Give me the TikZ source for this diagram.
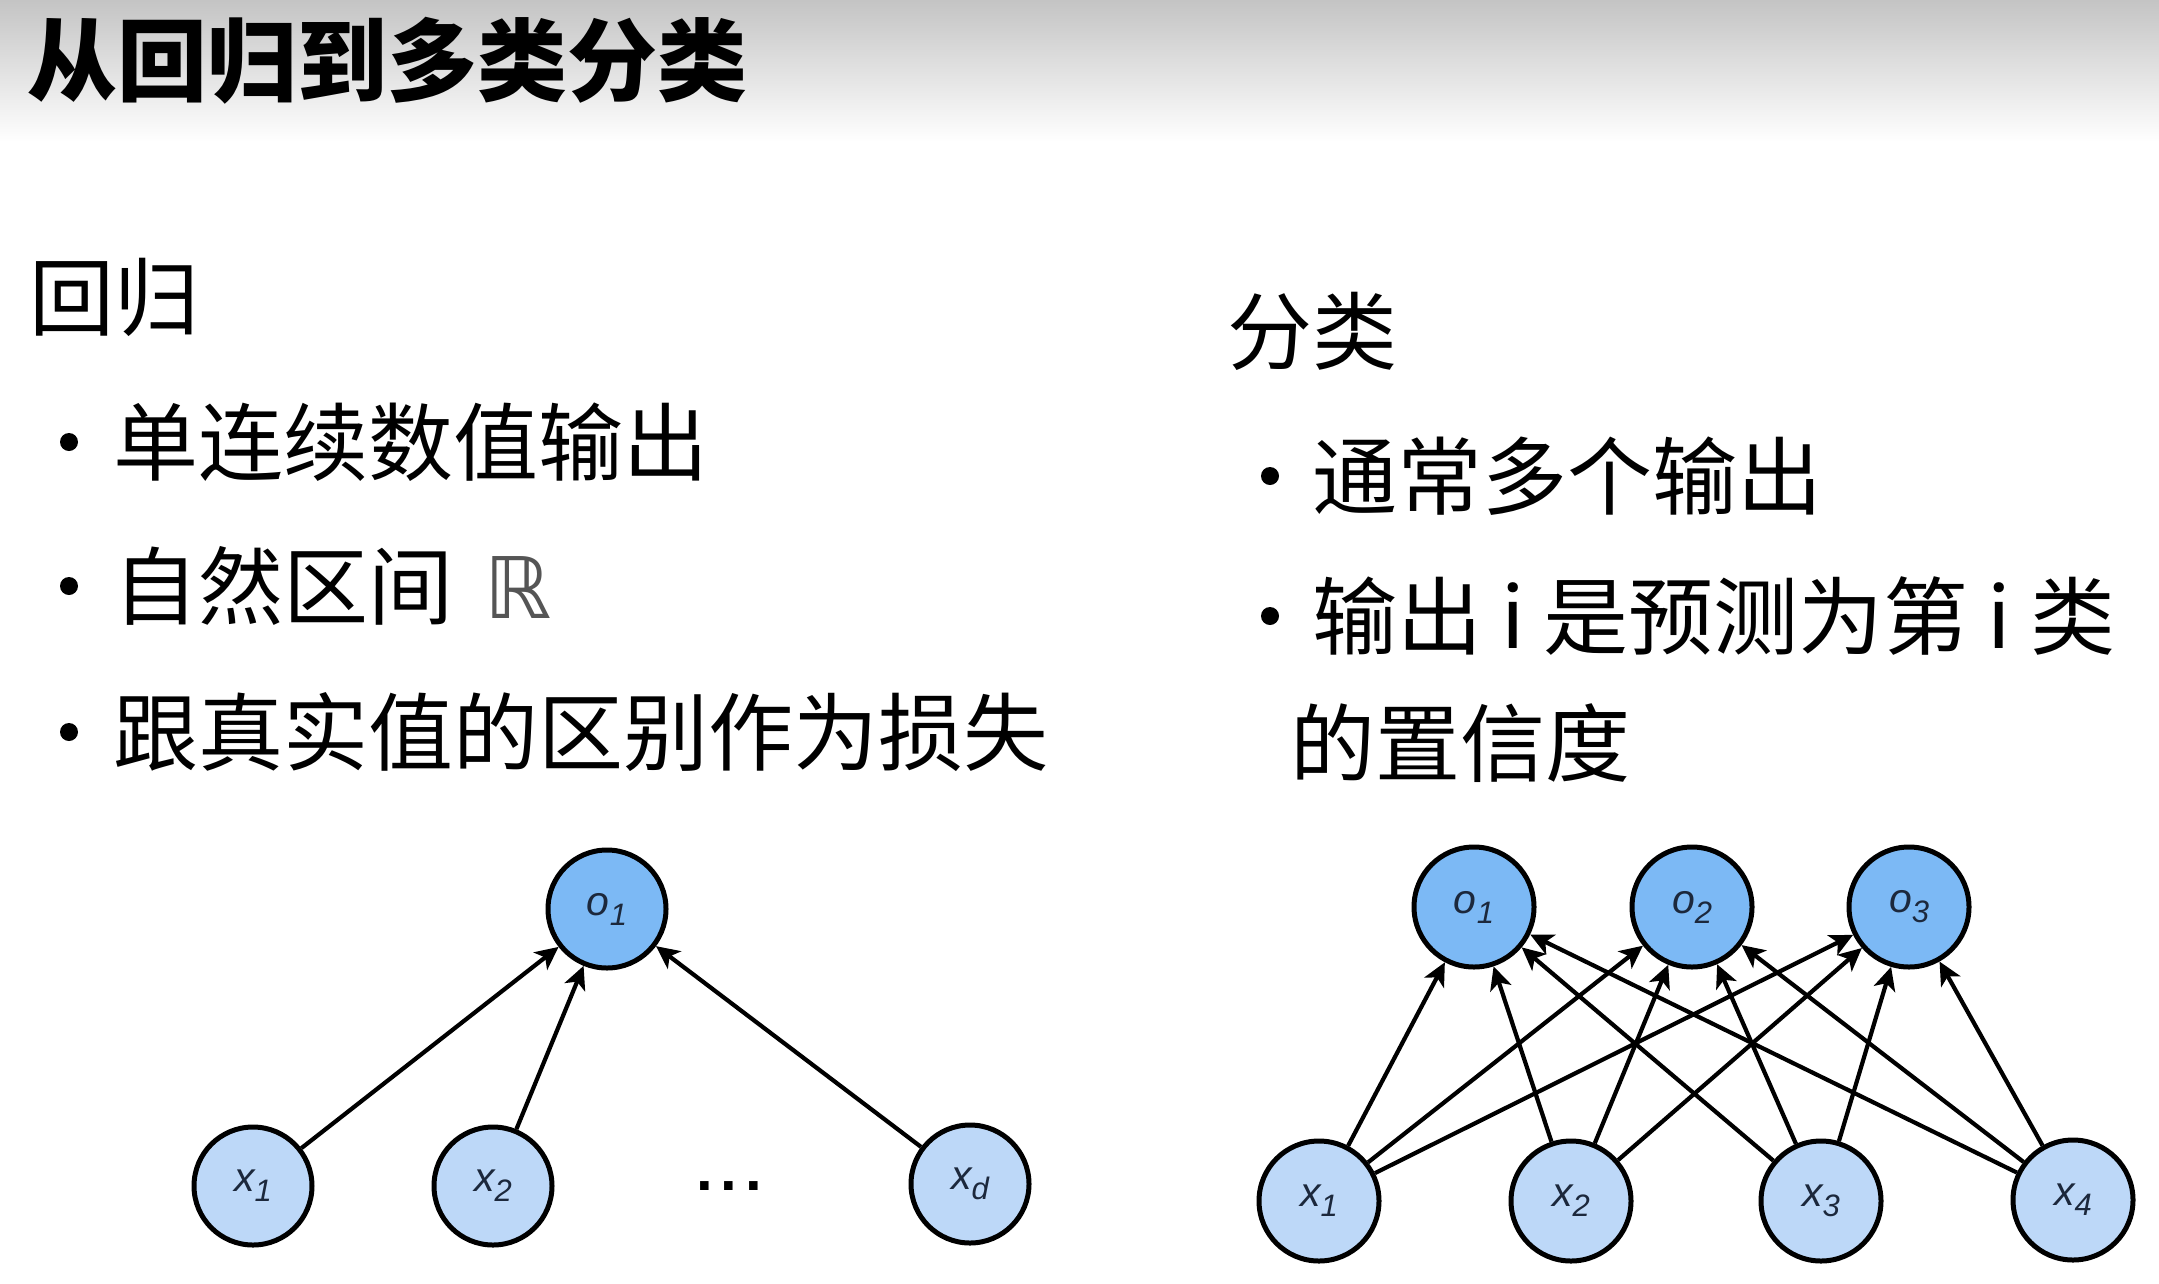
\documentclass[tikz,border=0pt]{standalone}
\usepackage{fontspec}
\setmainfont{Liberation Sans}
\newfontfamily\cjk{Noto Sans CJK SC}
\newfontfamily\djv{DejaVu Sans}
\usetikzlibrary{arrows.meta}
\definecolor{ofill}{RGB}{124,185,245}
\definecolor{xfill}{RGB}{189,216,248}
\definecolor{ink}{RGB}{28,40,60}
\definecolor{hdr}{RGB}{196,196,196}
\definecolor{rgray}{RGB}{85,85,85}
\newcommand\nlab[2]{#1\raisebox{-10pt}{\fontsize{31}{31}\selectfont #2}}
\tikzset{
  txt/.style={inner sep=0pt, anchor=base west, font=\cjk\fontsize{85}{85}\selectfont, text=black},
  ttl/.style={inner sep=0pt, anchor=base west, font=\cjk\bfseries\fontsize{90}{90}\selectfont, text=black},
  neuron/.style={circle, draw=black, line width=5pt, inner sep=0pt, font=\fontsize{41}{41}\selectfont\itshape, text=ink},
  onode/.style={neuron, fill=ofill},
  xnode/.style={neuron, fill=xfill},
  arr/.style={-{Stealth[length=23pt,width=22pt,inset=6pt]}, line width=4.2pt},
}
\begin{document}
\begin{tikzpicture}[x=1pt,y=1pt]
\useasboundingbox (0,0) rectangle (2159,-1283);
\fill[white] (0,0) rectangle (2159,-1283);
\shade[top color=hdr,bottom color=white] (0,0) rectangle (2159,-142);

\node[ttl] (title) at (27,-94) {从回归到多类分类};

% left column
\node[txt] (hreg) at (29,-329) {回归};
\fill (69,-442) circle (9);
\node[txt] (l1) at (113,-474) {单连续数值输出};
\fill (69,-586) circle (9);
\node[txt] (l2) at (113,-618) {自然区间\hspace{31pt}{\djv\color{rgray}ℝ}};
\fill (69,-732) circle (9);
\node[txt] (l3) at (113,-764) {跟真实值的区别作为损失};

% right column
\node[txt] (hcls) at (1227,-363) {分类};
\fill (1270,-476) circle (9);
\node[txt] (r1) at (1312,-508) {通常多个输出};
\fill (1270,-616) circle (9);
\node[txt] (r2) at (1312,-648) {输出 i 是预测为第 i 类};
\node[txt] (r3) at (1290,-775) {的置信度};

% left network
\begin{scope}[every node/.append style={minimum size=118pt}]
\node[onode] (lo1) at (607,-909) {\nlab{o}{1}};
\node[xnode] (lx1) at (253,-1186) {\nlab{x}{1}};
\node[xnode] (lx2) at (493,-1186) {\nlab{x}{2}};
\node[xnode] (lxd) at (970,-1184) {\nlab{x}{d}};
\end{scope}
\node[inner sep=0pt, anchor=base, font=\bfseries\fontsize{60}{60}\selectfont] (ldots) at (729,-1190) {.\hspace{8pt}.\hspace{8pt}.};
\foreach \s in {lx1,lx2,lxd} \draw[arr] (\s) -- (lo1);

% right network
\begin{scope}[every node/.append style={minimum size=120pt}]
\node[onode] (ro1) at (1474,-907) {\nlab{o}{1}};
\node[onode] (ro2) at (1692,-907) {\nlab{o}{2}};
\node[onode] (ro3) at (1909,-907) {\nlab{o}{3}};
\node[xnode] (rx1) at (1319,-1201) {\nlab{x}{1}};
\node[xnode] (rx2) at (1571,-1201) {\nlab{x}{2}};
\node[xnode] (rx3) at (1821,-1201) {\nlab{x}{3}};
\node[xnode] (rx4) at (2073,-1200) {\nlab{x}{4}};
\end{scope}
\foreach \i in {1,2,3,4} \foreach \j in {1,2,3} \draw[arr] (rx\i) -- (ro\j);
\end{tikzpicture}
\end{document}
